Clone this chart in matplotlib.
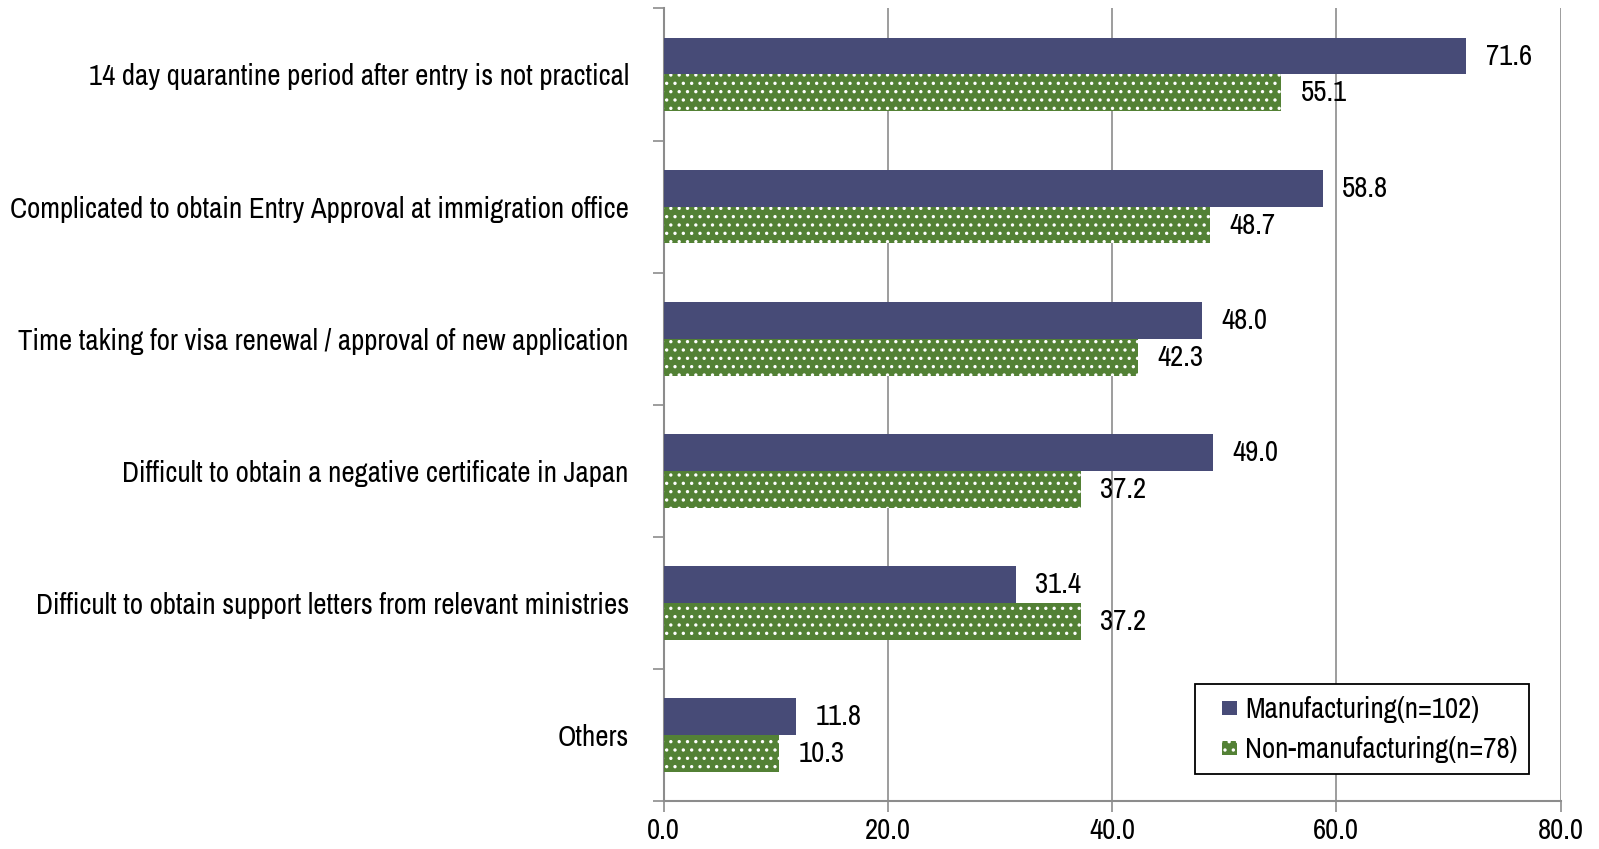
import numpy as np
import matplotlib
matplotlib.use("Agg")
from matplotlib import pyplot as plt
from matplotlib import font_manager
from matplotlib.patches import Rectangle
from matplotlib.container import BarContainer
from matplotlib.legend_handler import HandlerPatch, update_from_first_child

# prefer a narrow sans (the original looks like Arial Narrow)
narrow = sorted({f.name for f in font_manager.fontManager.ttflist
                 if 'Narrow' in f.name or 'Condensed' in f.name})
plt.rcParams['font.family'] = narrow[:1] + ['Liberation Sans', 'DejaVu Sans']
plt.rcParams['hatch.color'] = 'white'
plt.rcParams['hatch.linewidth'] = 1.2

categories = [
    "14 day quarantine period after entry is not practical",
    "Complicated to obtain Entry Approval at immigration office",
    "Time taking for visa renewal / approval of new application",
    "Difficult to obtain a negative certificate in Japan",
    "Difficult to obtain support letters from relevant ministries",
    "Others",
]
manufacturing = [71.6, 58.8, 48.0, 49.0, 31.4, 11.8]
non_manufacturing = [55.1, 48.7, 42.3, 37.2, 37.2, 10.3]
series_names = ["Manufacturing(n=102)", "Non-manufacturing(n=78)"]

navy = "#474b77"
green = "#538135"
grid = "#8c8c8c"
fs = 20.8 if narrow else 17.3

fig = plt.figure(figsize=(15.99, 8.49), dpi=100)
ax = fig.add_axes([0.415, 0.057, 0.561, 0.933])

y = np.arange(len(categories))
h = 0.28
b1 = ax.barh(y - h / 2, manufacturing, height=h, color=navy, label=series_names[0], zorder=3)
b2 = ax.barh(y + h / 2, non_manufacturing, height=h, color=green, hatch='..',
             label=series_names[1], zorder=3, linewidth=0)

for bars, vals in ((b1, manufacturing), (b2, non_manufacturing)):
    for bar, v in zip(bars, vals):
        ax.annotate(f"{v:.1f}", (v, bar.get_y() + bar.get_height() / 2),
                    xytext=(14, 0), textcoords="offset points",
                    va="center", ha="left", fontsize=fs)

ax.set_xlim(0, 80)
ax.set_ylim(len(categories) - 0.5, -0.5)
ax.set_xticks([0, 20, 40, 60, 80])
ax.set_xticklabels([f"{t:.1f}" for t in [0, 20, 40, 60, 80]], fontsize=fs)
ax.set_yticks(y)
ax.set_yticklabels(categories, fontsize=fs)
ax.tick_params(axis='y', length=0, pad=25)
ax.set_yticks(np.arange(-0.5, len(categories)), minor=True)
ax.tick_params(axis='y', which='minor', length=8, color=grid, width=1.2)
ax.tick_params(axis='x', length=8, color=grid, width=1.2, pad=4)

ax.xaxis.grid(True, color=grid, linewidth=1.2, zorder=0)
for s in ('top', 'right'):
    ax.spines[s].set_visible(False)
for s in ('left', 'bottom'):
    ax.spines[s].set_color(grid)
    ax.spines[s].set_linewidth(1.5)


# small square legend keys, centred in the handle box
def square(legend, orig_handle, xdescent, ydescent, width, height, fontsize):
    s = 0.5 * fontsize
    return Rectangle((width - s - xdescent, (height - s) / 2 - ydescent), s, s)


sq = HandlerPatch(patch_func=square, update_func=update_from_first_child)
leg = ax.legend(loc='lower right', bbox_to_anchor=(0.965, 0.033), borderaxespad=0,
                fontsize=fs, frameon=True, fancybox=False, edgecolor='black', framealpha=1,
                handlelength=1.05, handleheight=0.7, handletextpad=0.3,
                borderpad=0.4, labelspacing=0.45,
                handler_map={BarContainer: sq})
leg.get_frame().set_linewidth(1.3)

fig.savefig("out.png", dpi=100)
